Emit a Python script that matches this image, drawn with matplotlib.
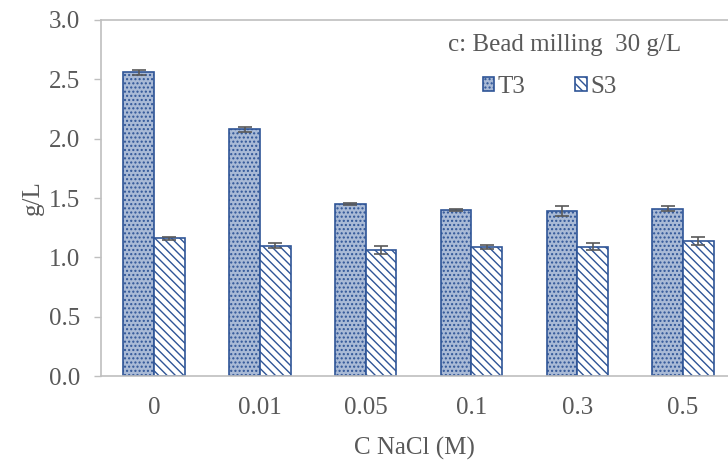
import numpy as np
import matplotlib.pyplot as plt

# Data
categories = ["0", "0.01", "0.05", "0.1", "0.3", "0.5"]
t3_values = [2.56, 2.08, 1.45, 1.40, 1.39, 1.41]
t3_errors = [0.02, 0.02, 0.01, 0.01, 0.04, 0.02]
s3_values = [1.16, 1.10, 1.06, 1.09, 1.09, 1.14]
s3_errors = [0.01, 0.02, 0.035, 0.015, 0.03, 0.035]

plt.rcParams['font.family'] = ['Liberation Serif', 'DejaVu Serif']
plt.rcParams['hatch.linewidth'] = 1.0

dark_blue = '#2F5597'
gray_text = '#595959'
axis_gray = '#BFBFBF'
fs = 18

fig = plt.figure(figsize=(7.28, 4.65), dpi=100)
ax = fig.add_axes([0.139, 0.191, 0.861, 0.766])

x = np.arange(len(categories))
width = 0.29
err_kw = dict(ecolor=gray_text, elinewidth=1.2, capsize=5, capthick=1.2)

ax.bar(x - width / 2, t3_values, width, yerr=t3_errors, color='#A9BAD6',
       edgecolor=dark_blue, hatch='....', linewidth=1.2, label='T3',
       error_kw=err_kw)
ax.bar(x + width / 2, s3_values, width, yerr=s3_errors, color='white',
       edgecolor=dark_blue, hatch='\\\\\\\\', linewidth=1.2, label='S3',
       error_kw=err_kw)

ax.set_xlim(-0.5, 5.425)
ax.set_ylim(0, 3.0)
ax.set_yticks(np.arange(0, 3.01, 0.5))
ax.set_yticklabels([f"{v:.1f}" for v in np.arange(0, 3.01, 0.5)])
ax.set_xticks(x)
ax.set_xticklabels(categories)

ax.tick_params(axis='y', colors=gray_text, labelsize=fs, length=5, width=1,
               direction='out', pad=10)
ax.tick_params(axis='y', color=axis_gray)
ax.tick_params(axis='x', colors=gray_text, labelsize=fs, length=0, pad=15)

for side in ['left', 'top', 'bottom']:
    ax.spines[side].set_color(axis_gray)
    ax.spines[side].set_linewidth(1.2)
ax.spines['right'].set_visible(False)

ax.set_ylabel('g/L', fontsize=fs, color=gray_text, labelpad=4)
ax.set_xlabel('C NaCl (M)', fontsize=fs, color=gray_text, labelpad=13)

# Legend title drawn as text, entries as a legend below it
fig.text(565 / 728, 1 - 45 / 465, 'c: Bead milling  30 g/L', fontsize=fs,
         color=gray_text, ha='center', va='center')
leg = ax.legend(ncol=2, frameon=False, loc='center left',
                bbox_to_anchor=(470 / 728, 1 - 87 / 465),
                bbox_transform=fig.transFigure, borderpad=0,
                fontsize=fs, handlelength=0.45, handleheight=0.45,
                handletextpad=0.15, columnspacing=2.0,
                labelcolor=gray_text)

fig.savefig('out.png', dpi=100)
